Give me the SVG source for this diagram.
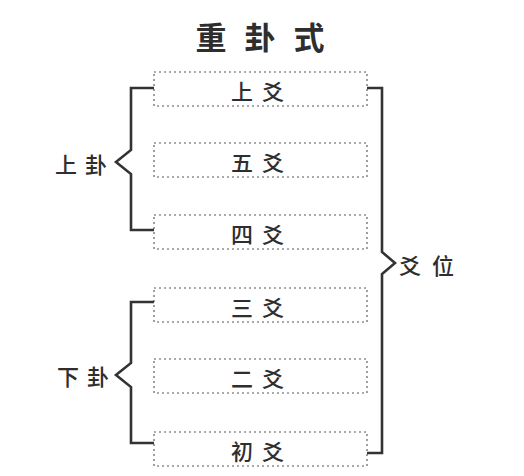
<svg xmlns="http://www.w3.org/2000/svg" width="524" height="476" viewBox="0 0 524 476">
<style>
text{font-family:"Noto Sans CJK SC","Noto Sans CJK TC",sans-serif;fill:#2e2e2e;text-anchor:middle;dominant-baseline:central}
.box{fill:none;stroke:#8f8f8f;stroke-width:1.7;stroke-dasharray:2 3}
.lbl{font-size:22px;font-weight:500}
.br{fill:none;stroke:#333;stroke-width:2.6;stroke-linejoin:miter}
</style>
<rect width="524" height="476" fill="#fff"/>
<text id="title" x="211 260 309" y="35" style="font-size:31px;font-weight:bold">重卦式</text>
<g id="n1"><rect class="box" x="154" y="72" width="213" height="34"/><text class="lbl" x="242 273" y="90">上爻</text></g>
<g id="n2"><rect class="box" x="154" y="143" width="213" height="34"/><text class="lbl" x="242 273" y="161">五爻</text></g>
<g id="n3"><rect class="box" x="154" y="215" width="213" height="34"/><text class="lbl" x="242 273" y="233">四爻</text></g>
<g id="n4"><rect class="box" x="154" y="288" width="213" height="34"/><text class="lbl" x="242 273" y="306">三爻</text></g>
<g id="n5"><rect class="box" x="154" y="359" width="213" height="34"/><text class="lbl" x="242 273" y="377">二爻</text></g>
<g id="n6"><rect class="box" x="154" y="432" width="213" height="34"/><text class="lbl" x="242 273" y="450">初爻</text></g>
<g id="upper"><text class="lbl" x="66 96" y="163">上卦</text></g>
<g id="lower"><text class="lbl" x="68 98" y="375">下卦</text></g>
<g id="yaowei"><text class="lbl" x="410 443" y="264">爻位</text></g>
<g id="connectors">
<path class="br" d="M154,88 H131 V150 L116,162 L131,174 V230 H154"/>
<path class="br" d="M154,302 H131 V363 L116,375 L131,387 V443 H154"/>
<path class="br" d="M367,88 H382 V252 L395,263 L382,274 V453 H367"/>
</g>
</svg>
